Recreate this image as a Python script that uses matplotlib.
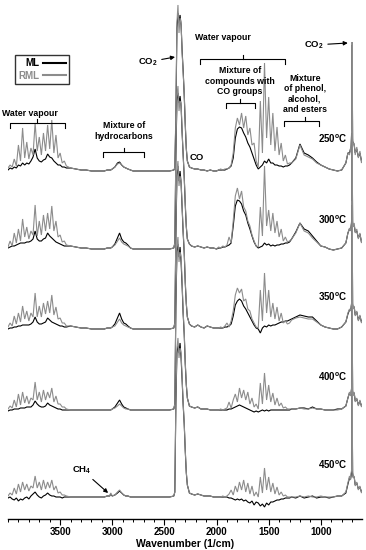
import matplotlib
matplotlib.use('Agg')
import matplotlib.pyplot as plt
from matplotlib.lines import Line2D
from matplotlib.ticker import MultipleLocator, FixedLocator

plt.rcParams['font.family'] = ['Liberation Sans', 'DejaVu Sans']
plt.rcParams['font.weight'] = 'bold'
plt.rcParams['mathtext.fontset'] = 'custom'
plt.rcParams['mathtext.rm'] = 'Liberation Sans:bold'
plt.rcParams['mathtext.bf'] = 'Liberation Sans:bold'
plt.rcParams['mathtext.it'] = 'Liberation Sans:bold'

# ---------------- data ----------------
wavenumber = [
    4000, 3980, 3960, 3940, 3920, 3900, 3880, 3860, 3840, 3820, 3800, 3780, 3760, 3740, 3720,
    3700, 3680, 3660, 3640, 3620, 3600, 3580, 3560, 3540, 3520, 3500, 3480, 3460, 3440,
    3400, 3350, 3300, 3250, 3200, 3150, 3100,
    3075, 3050, 3025, 3015, 3000, 2975, 2950, 2930, 2910, 2890, 2870, 2850, 2825, 2800,
    2700, 2600, 2500, 2450, 2410,
    2400, 2390, 2380, 2370, 2360, 2350, 2340, 2330, 2320, 2310, 2300, 2290, 2280, 2260, 2240,
    2210, 2180, 2150, 2120, 2090, 2060, 2030, 2000,
    1980, 1960, 1940, 1920, 1900, 1880, 1860, 1840, 1820, 1800, 1780, 1760, 1740, 1720, 1700,
    1680, 1660, 1640, 1620, 1600, 1580, 1560, 1540, 1520, 1500, 1480, 1460, 1440, 1420, 1400,
    1380, 1360, 1340, 1320, 1300,
    1280, 1240, 1200, 1160, 1120, 1080, 1040, 1000, 960, 920, 880, 840, 800, 760,
    740, 725, 715, 710, 705, 700, 695, 690, 680, 670, 655, 640, 625, 610, 600,
]

rml_250 = [
    5, 8, 6, 14, 7, 28, 12, 45, 15, 31, 14, 25, 18, 50, 22, 36, 18, 40, 22, 48, 24, 53, 20, 38, 15, 20, 10, 12, 7,
    5, 4, 3, 3, 2, 2, 2,
    2, 3, 3, 3, 4, 6, 9, 10, 8, 6, 5, 4, 3, 2,
    2, 2, 2, 2, 3,
    5, 60, 150, 168, 140, 155, 150, 120, 100, 80, 50, 25, 12, 6, 5, 4, 4, 3, 3, 2, 3, 2, 2,
    3, 4, 3, 4, 4, 5, 8, 20, 45, 55, 48, 60, 45, 57, 38, 45, 28, 30, 12, 6, 72, 20, 110, 35, 76,
    28, 60, 22, 46, 18, 30, 12, 18, 9, 10,
    10, 14, 28, 18, 16, 14, 10, 8, 6, 4, 3, 2, 3, 10,
    20, 18, 25, 22, 40, 131, 35, 28, 30, 18, 26, 15, 22, 10, 14,
]
ml_250 = [
    3, 5, 4, 6, 5, 8, 7, 10, 8, 10, 9, 12, 16, 24, 15, 12, 11, 13, 14, 19, 16, 15, 12, 10, 8, 8, 6, 6, 5,
    5, 4, 3, 3, 2, 2, 2,
    2, 3, 3, 3, 4, 6, 10, 11, 8, 6, 5, 4, 3, 2,
    2, 2, 2, 2, 3,
    5, 55, 145, 160, 150, 158, 148, 122, 102, 78, 48, 24, 12, 6, 5, 4, 4, 3, 3, 2, 3, 2, 2,
    3, 3, 3, 3, 4, 5, 7, 15, 35, 44, 46, 45, 40, 36, 30, 26, 20, 14, 8, 4, 6, 8, 12, 10, 14,
    10, 10, 8, 8, 7, 7, 6, 7, 7, 8,
    10, 15, 29, 20, 18, 15, 11, 8, 6, 4, 3, 2, 3, 10,
    20, 20, 24, 24, 38, 128, 32, 30, 28, 20, 24, 16, 20, 12, 13,
]

rml_300 = [
    4, 10, 5, 18, 8, 22, 10, 32, 14, 24, 12, 20, 16, 46, 15, 30, 16, 36, 20, 38, 22, 45, 20, 30, 14, 16, 9, 10, 6,
    5, 4, 3, 3, 2, 2, 2,
    2, 3, 3, 3, 4, 6, 10, 13, 9, 7, 6, 5, 3, 2,
    2, 2, 2, 2, 3,
    8, 100, 155, 165, 140, 150, 148, 120, 95, 75, 48, 25, 12, 7, 5, 4, 5, 4, 3, 4, 3, 3, 2,
    4, 3, 5, 4, 6, 14, 8, 30, 55, 63, 52, 60, 44, 40, 30, 25, 16, 10, 5, 4, 44, 15, 85, 25, 41,
    20, 38, 18, 30, 14, 22, 10, 14, 9, 10,
    12, 18, 28, 20, 18, 13, 9, 5, 4, 2, 1, 2, 3, 8,
    18, 23, 20, 25, 30, 120, 30, 24, 28, 18, 22, 12, 18, 8, 12,
]
ml_300 = [
    3, 4, 5, 5, 6, 7, 8, 8, 8, 9, 9, 10, 12, 20, 12, 10, 10, 12, 13, 18, 15, 13, 11, 9, 8, 7, 6, 5, 5,
    5, 4, 3, 3, 2, 2, 2,
    2, 3, 3, 3, 4, 7, 13, 18, 12, 9, 8, 6, 3, 2,
    2, 2, 2, 2, 3,
    8, 95, 150, 158, 148, 155, 145, 118, 96, 74, 46, 24, 12, 7, 5, 4, 5, 4, 3, 4, 3, 3, 2,
    3, 3, 4, 4, 5, 6, 8, 25, 45, 51, 50, 47, 40, 36, 28, 22, 15, 9, 5, 3, 4, 5, 8, 6, 7,
    5, 6, 5, 6, 6, 7, 7, 8, 8, 9,
    12, 19, 28, 22, 20, 15, 10, 5, 4, 2, 1, 2, 3, 8,
    18, 22, 21, 24, 28, 118, 28, 25, 26, 19, 20, 13, 17, 9, 11,
]

rml_350 = [
    4, 8, 5, 15, 7, 18, 9, 25, 12, 20, 10, 18, 14, 38, 14, 25, 14, 28, 17, 30, 18, 36, 16, 24, 12, 13, 8, 8, 5,
    5, 4, 3, 3, 2, 2, 2,
    2, 3, 3, 3, 4, 5, 9, 12, 8, 6, 5, 4, 3, 2,
    2, 2, 2, 2, 3,
    8, 100, 160, 170, 145, 155, 150, 125, 100, 80, 50, 28, 14, 7, 5, 4, 6, 4, 3, 5, 4, 3, 3,
    3, 4, 3, 5, 8, 4, 10, 20, 36, 43, 38, 42, 30, 32, 22, 20, 12, 8, 4, 3, 41, 10, 58, 18, 41,
    14, 28, 12, 24, 10, 18, 8, 10, 7, 8,
    11, 13, 14, 13, 12, 12, 9, 6, 4, 3, 2, 2, 4, 9,
    18, 22, 20, 24, 28, 130, 28, 22, 25, 15, 20, 10, 16, 8, 10,
]
ml_350 = [
    2, 3, 3, 4, 4, 5, 5, 6, 6, 6, 6, 7, 9, 14, 9, 7, 7, 8, 9, 13, 11, 9, 8, 7, 6, 5, 5, 4, 4,
    5, 4, 3, 3, 2, 2, 2,
    2, 3, 3, 3, 4, 7, 13, 18, 12, 8, 7, 5, 3, 2,
    2, 2, 2, 2, 3,
    8, 95, 155, 165, 150, 160, 148, 122, 98, 78, 48, 27, 14, 7, 5, 4, 6, 4, 3, 5, 4, 3, 3,
    3, 3, 3, 4, 4, 5, 7, 15, 26, 30, 32, 30, 25, 22, 18, 14, 10, 6, 3, 2, -2, 3, 5, 4, 6,
    5, 6, 6, 7, 8, 9, 9, 10, 10, 11,
    12, 14, 16, 15, 14, 14, 10, 6, 4, 3, 2, 2, 4, 9,
    17, 21, 21, 23, 27, 126, 27, 23, 24, 16, 19, 11, 15, 9, 10,
]

rml_400 = [
    3, 6, 4, 12, 5, 18, 7, 20, 9, 16, 8, 14, 12, 30, 12, 20, 10, 22, 12, 20, 14, 24, 10, 16, 8, 8, 5, 5, 3,
    2, 2, 2, 2, 2, 2, 2,
    2, 2, 2, 2, 3, 4, 6, 8, 6, 4, 3, 3, 2, 2,
    2, 2, 2, 2, 3,
    8, 110, 165, 175, 150, 160, 155, 130, 100, 80, 50, 28, 14, 6, 5, 4, 5, 3, 3, 3, 2, 2, 2,
    2, 3, 2, 3, 4, 10, 4, 12, 18, 10, 24, 14, 22, 12, 20, 8, 14, 5, 8, 3, 29, 8, 39, 12, 27,
    10, 19, 7, 14, 6, 9, 4, 5, 3, 3,
    3, 3, 4, 3, 3, 4, 3, 3, 2, 2, 2, 2, 3, 6,
    14, 20, 16, 20, 24, 110, 22, 16, 20, 10, 14, 6, 12, 5, 8,
]
ml_400 = [
    1, 2, 2, 3, 3, 3, 4, 4, 4, 5, 5, 5, 7, 11, 8, 6, 5, 5, 6, 9, 7, 6, 5, 4, 3, 3, 2, 2, 2,
    2, 2, 2, 2, 2, 2, 2,
    2, 2, 2, 2, 3, 5, 9, 12, 8, 5, 4, 3, 2, 2,
    2, 2, 2, 2, 3,
    8, 105, 160, 168, 155, 165, 150, 126, 98, 78, 48, 27, 14, 6, 5, 4, 5, 3, 3, 3, 2, 2, 2,
    2, 2, 2, 2, 2, 3, 3, 4, 5, 6, 7, 6, 5, 4, 3, 2, 1, 0, 1, 0, 1, 2, 1, 2, 1,
    2, 2, 2, 2, 2, 2, 2, 2, 2, 2,
    3, 3, 4, 4, 3, 5, 3, 3, 2, 2, 2, 3, 3, 6,
    14, 19, 17, 19, 23, 106, 21, 17, 19, 11, 13, 7, 11, 6, 7,
]

rml_450 = [
    2, 5, 3, 10, 4, 14, 6, 16, 8, 14, 7, 12, 10, 22, 10, 16, 8, 18, 9, 16, 10, 18, 8, 12, 5, 6, 3, 3, 2,
    1, 1, 1, 1, 1, 1, 1,
    1, 2, 2, 5, 2, 3, 6, 8, 5, 3, 2, 2, 1, 1,
    1, 1, 1, 1, 2,
    6, 100, 150, 160, 140, 150, 145, 120, 95, 75, 48, 26, 13, 5, 4, 3, 4, 3, 2, 2, 2, 1, 1,
    1, 1, 2, 1, 2, 4, 8, 3, 12, 6, 16, 8, 18, 6, 15, 4, 12, 2, 6, 1, 21, 5, 30, 8, 21,
    6, 15, 4, 11, 3, 6, 2, 3, 1, 1,
    1, 1, 2, 1, 2, 1, 1, 2, 1, 1, 1, 2, 2, 6,
    15, 22, 18, 24, 28, 110, 26, 20, 22, 12, 16, 8, 12, 5, 7,
]
ml_450 = [
    0, 1, -1, -2, 0, -3, -1, -2, 0, 1, -1, 2, 4, 6, 3, 1, 0, 2, 3, 5, 3, 2, 2, 1, 1, 1, 0, 1, 1,
    1, 1, 1, 1, 1, 1, 1,
    1, 2, 2, 4, 2, 3, 5, 7, 5, 3, 2, 2, 1, 1,
    1, 1, 1, 1, 2,
    6, 95, 145, 152, 145, 155, 140, 118, 93, 74, 47, 25, 13, 5, 4, 3, 4, 3, 2, 2, 2, 1, 1,
    1, 1, 1, 1, 1, 0, 0, -1, -2, -1, -2, -1, -3, -2, -4, -5, -3, -7, -4, -5, -8, -6, -9, -5, -7,
    -4, -4, -3, -2, -2, -1, -1, 0, 0, 0,
    1, 0, 2, 0, 1, 2, 0, 1, 1, 0, 1, 2, 2, 5,
    14, 20, 19, 22, 26, 104, 25, 21, 21, 13, 15, 9, 11, 6, 6,
]

temperatures = ['250', '300', '350', '400', '450']
stack_offsets = [346, 268, 188, 107, 21]
ml_series = [ml_250, ml_300, ml_350, ml_400, ml_450]
rml_series = [rml_250, rml_300, rml_350, rml_400, rml_450]
major_ticks = [3500, 3000, 2500, 2000, 1500, 1000]

ML_COLOR = 'black'
RML_COLOR = '#8c8c8c'

# ---------------- figure ----------------
fig = plt.figure(figsize=(3.66, 5.5), dpi=100)
ax = fig.add_axes([8 / 366, 31 / 550, 354 / 366, 519 / 550])

for off, b, g in zip(stack_offsets, ml_series, rml_series):
    ax.plot(wavenumber, [v + off for v in b], color=ML_COLOR, lw=0.8, solid_joinstyle='miter')
    ax.plot(wavenumber, [v + off for v in g], color=RML_COLOR, lw=0.8, solid_joinstyle='miter')

ax.set_xlim(4000, 605)
ax.set_ylim(0, 519)

for s in ['left', 'right', 'top']:
    ax.spines[s].set_visible(False)
ax.spines['bottom'].set_linewidth(1.0)
ax.set_yticks([])
ax.xaxis.set_major_locator(FixedLocator(major_ticks))
ax.xaxis.set_minor_locator(MultipleLocator(100))
ax.tick_params(axis='x', which='major', length=4, width=0.8, direction='out', labelsize=7, pad=1.5)
ax.tick_params(axis='x', which='minor', length=2.5, width=0.7, direction='out')
for lab in ax.get_xticklabels():
    lab.set_fontweight('bold')
ax.set_xlabel('Wavenumber (1/cm)', fontsize=7.5, fontweight='bold', labelpad=2)

# legend
handles = [Line2D([], [], color=ML_COLOR, lw=1.5), Line2D([], [], color=RML_COLOR, lw=1.5)]
leg = ax.legend(handles, ['ML', 'RML'], loc='upper left', bbox_to_anchor=(0.02, 0.894),
                borderaxespad=0, markerfirst=False, fontsize=7, frameon=True, fancybox=False,
                handlelength=2.3, handletextpad=0.4, borderpad=0.35, labelspacing=0.25,
                labelcolor=[ML_COLOR, RML_COLOR])
leg.get_frame().set_edgecolor('black')
leg.get_frame().set_linewidth(1.0)
for t in leg.get_texts():
    t.set_fontweight('bold')


def bracket(x1, x2, xm, y, drop=5, rise=4):
    ax.plot([x1, x1, x2, x2], [y - drop, y, y, y - drop], color='black', lw=0.8)
    ax.plot([xm, xm], [y, y + rise], color='black', lw=0.8)


afs = 6.3
# left water vapour
ax.text(3787, 406, 'Water vapour', ha='center', va='center', fontsize=afs, fontweight='bold')
bracket(3979, 3452, 3720, 396)
# hydrocarbons
ax.text(2887, 388, 'Mixture of\nhydrocarbons', ha='center', va='center', fontsize=afs,
        fontweight='bold', linespacing=1.15)
bracket(3088, 2695, 2887, 367)
# CO2 left
ax.annotate('CO$_2$', xy=(2398, 462), xytext=(2660, 457), ha='center', va='center',
            fontsize=afs + 0.5, fontweight='bold',
            arrowprops=dict(arrowstyle='-|>', color='black', lw=0.8, mutation_scale=6,
                            shrinkA=1, shrinkB=0))
# CO
ax.text(2188, 362, 'CO', ha='center', va='center', fontsize=afs + 0.5, fontweight='bold')
# right water vapour
ax.text(1939, 481, 'Water vapour', ha='center', va='center', fontsize=afs, fontweight='bold')
bracket(2159, 1345, 1747, 460)
# CO groups
ax.text(1776, 438, 'Mixture of\ncompounds with\nCO groups', ha='center', va='center',
        fontsize=afs, fontweight='bold', linespacing=1.15)
bracket(1910, 1632, 1776, 416)
# phenol
ax.text(1153, 425, 'Mixture\nof phenol,\nalcohol,\nand esters', ha='center', va='center',
        fontsize=afs, fontweight='bold', linespacing=1.15)
bracket(1354, 1019, 1153, 398)
# CO2 right
ax.annotate('CO$_2$', xy=(741, 476), xytext=(1067, 474), ha='center', va='center',
            fontsize=afs + 0.5, fontweight='bold',
            arrowprops=dict(arrowstyle='-|>', color='black', lw=0.8, mutation_scale=6,
                            shrinkA=1, shrinkB=0))
# CH4
ax.annotate('CH$_4$', xy=(3040, 26), xytext=(3289, 49), ha='center', va='center',
            fontsize=afs + 0.5, fontweight='bold',
            arrowprops=dict(arrowstyle='-|>', color='black', lw=0.8, mutation_scale=6,
                            shrinkA=1, shrinkB=0))

# temperature labels
temp_label_y = [380, 299, 222, 142, 54]
for t, yy in zip(temperatures, temp_label_y):
    ax.text(885, yy, t + '$^{\\mathrm{o}}$C', ha='center', va='center', fontsize=7,
            fontweight='bold')

fig.savefig('out.png', dpi=100)
